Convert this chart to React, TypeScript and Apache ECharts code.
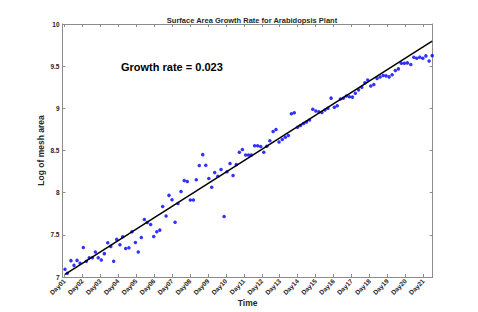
import React, { useEffect, useRef } from "react";
import * as echarts from "echarts";

// Tick positions (days) and their labels
const dayTicks = [1, 2, 3, 4, 5, 6, 7, 8, 9, 10, 11, 12, 13, 14, 15, 16, 17, 18, 19, 20, 21];
const dayLabels = [
  "Day01", "Day02", "Day03", "Day04", "Day05", "Day06", "Day07", "Day08", "Day09", "Day10",
  "Day11", "Day12", "Day13", "Day14", "Day15", "Day16", "Day17", "Day18", "Day19", "Day20", "Day21",
];
const yTicks = ["7", "7.5", "8", "8.5", "9", "9.5", "10"];

// Sample times (days)
const times = [
  1.04, 1.17, 1.37, 1.54, 1.71, 1.88, 2.06, 2.23, 2.39, 2.56,
  2.73, 2.89, 3.06, 3.23, 3.42, 3.59, 3.75, 3.92, 4.10, 4.25,
  4.42, 4.60, 4.77, 4.96, 5.12, 5.29, 5.46, 5.62, 5.81, 5.98,
  6.15, 6.32, 6.48, 6.67, 6.83, 7.00, 7.17, 7.33, 7.50, 7.68,
  7.85, 8.02, 8.19, 8.35, 8.52, 8.71, 8.88, 9.05, 9.21, 9.38,
  9.55, 9.73, 9.90, 10.06, 10.23, 10.40, 10.58, 10.75, 10.92, 11.10,
  11.26, 11.42, 11.60, 11.77, 11.94, 12.11, 12.28, 12.45, 12.63, 12.79,
  12.96, 13.14, 13.31, 13.48, 13.65, 13.81, 13.99, 14.16, 14.33, 14.49,
  14.66, 14.84, 15.01, 15.18, 15.35, 15.52, 15.69, 15.86, 16.04, 16.20,
  16.38, 16.54, 16.71, 16.88, 17.05, 17.21, 17.39, 17.57, 17.74, 17.90,
  18.07, 18.24, 18.42, 18.59, 18.76, 18.92, 19.09, 19.26, 19.44, 19.61,
  19.77, 19.94, 20.11, 20.30, 20.47, 20.63, 20.80, 20.97, 21.14, 21.32,
  21.49,
];

// Log of mesh area
const logArea = [
  7.091, 7.044, 7.194, 7.138, 7.197, 7.162, 7.351, 7.186, 7.229, 7.229,
  7.296, 7.229, 7.201, 7.277, 7.407, 7.363, 7.186, 7.446, 7.383, 7.478,
  7.339, 7.348, 7.537, 7.410, 7.296, 7.469, 7.682, 7.647, 7.623, 7.481,
  7.537, 7.556, 7.836, 7.724, 7.968, 7.916, 7.650, 7.871, 8.013, 8.143,
  8.132, 7.913, 7.913, 8.153, 8.321, 8.451, 8.324, 8.167, 8.064, 8.240,
  8.194, 8.274, 7.718, 8.247, 8.347, 8.203, 8.333, 8.480, 8.512, 8.447,
  8.447, 8.447, 8.557, 8.557, 8.548, 8.480, 8.550, 8.616, 8.726, 8.750,
  8.602, 8.631, 8.658, 8.679, 8.936, 8.948, 8.776, 8.797, 8.820, 8.839,
  8.862, 8.989, 8.969, 8.959, 8.950, 8.979, 9.001, 9.121, 9.013, 9.030,
  9.110, 9.119, 9.145, 9.137, 9.133, 9.178, 9.219, 9.251, 9.302, 9.335,
  9.264, 9.282, 9.355, 9.371, 9.389, 9.385, 9.373, 9.399, 9.448, 9.468,
  9.535, 9.535, 9.539, 9.521, 9.606, 9.595, 9.607, 9.595, 9.622, 9.560,
  9.625,
];

// Fitted line (per day)
const fitSlope = 0.1353;
const fitIntercept = 6.89;
const growthRateText = "Growth rate = 0.023";

const FONT = "'Liberation Sans', Arial, Helvetica, sans-serif";
const AXIS_COLOR = "#8c8c8c";
const TEXT_COLOR = "#262626";

export default function App() {
  const ref = useRef<HTMLDivElement>(null);

  useEffect(() => {
    if (!ref.current) return;
    const chart = echarts.init(ref.current, undefined, { renderer: "svg" });
    const points = times.map((t, i) => [t, logArea[i]]);
    const t0 = times[0];
    const t1 = times[times.length - 1];
    const fitLine = [
      [t0, fitIntercept + fitSlope * t0],
      [t1, fitIntercept + fitSlope * t1],
    ];
    const xMin = 0.9;
    const xMax = 21.52;

    chart.setOption({
      animation: false,
      backgroundColor: "#ffffff",
      textStyle: { fontFamily: FONT },
      title: {
        text: "Surface Area Growth Rate for Arabidopsis Plant",
        left: 247,
        textAlign: "center",
        top: 11,
        textStyle: { fontSize: 7.5, fontWeight: "bold", color: TEXT_COLOR, fontFamily: FONT },
      },
      grid: { left: 62.5, right: 45.3, top: 24, bottom: 34.3 },
      xAxis: [
        {
          type: "value",
          min: xMin,
          max: xMax,
          position: "bottom",
          name: "Time",
          nameLocation: "middle",
          nameGap: 21,
          nameMoveOverlap: false,
          nameTextStyle: { fontSize: 8.5, fontWeight: "bold", color: TEXT_COLOR, fontFamily: FONT },
          axisLine: { show: true, lineStyle: { color: AXIS_COLOR, width: 1 } },
          axisTick: { show: true, inside: true, length: 3, customValues: dayTicks, lineStyle: { color: AXIS_COLOR } },
          axisLabel: {
            show: true,
            customValues: dayTicks,
            rotate: 45,
            margin: 3,
            fontSize: 6.5,
            fontWeight: "bold",
            color: TEXT_COLOR,
            fontFamily: FONT,
            formatter: (v: number) => dayLabels[dayTicks.indexOf(Math.round(v))] ?? "",
          },
          splitLine: { show: false },
        },
        {
          type: "value",
          min: xMin,
          max: xMax,
          position: "top",
          axisLine: { show: true, lineStyle: { color: AXIS_COLOR, width: 1 } },
          axisTick: { show: true, inside: true, length: 3, customValues: dayTicks, lineStyle: { color: AXIS_COLOR } },
          axisLabel: { show: false },
          splitLine: { show: false },
        },
      ],
      yAxis: [
        {
          type: "value",
          min: 7,
          max: 10,
          interval: 0.5,
          position: "left",
          name: "Log of mesh area",
          nameLocation: "middle",
          nameGap: 17,
          nameMoveOverlap: false,
          nameTextStyle: { fontSize: 8.5, fontWeight: "bold", color: TEXT_COLOR, fontFamily: FONT },
          axisLine: { show: true, lineStyle: { color: AXIS_COLOR, width: 1 } },
          axisTick: { show: true, inside: true, length: 3, lineStyle: { color: AXIS_COLOR } },
          axisLabel: {
            show: true,
            margin: 3,
            fontSize: 6.5,
            fontWeight: "bold",
            color: TEXT_COLOR,
            fontFamily: FONT,
            formatter: (v: number) => yTicks[Math.round((v - 7) / 0.5)] ?? "",
          },
          splitLine: { show: false },
        },
        {
          type: "value",
          min: 7,
          max: 10,
          interval: 0.5,
          position: "right",
          axisLine: { show: true, lineStyle: { color: AXIS_COLOR, width: 1 } },
          axisTick: { show: true, inside: true, length: 3, lineStyle: { color: AXIS_COLOR } },
          axisLabel: { show: false },
          splitLine: { show: false },
        },
      ],
      graphic: [
        {
          type: "text",
          left: 121,
          top: 61,
          style: {
            text: growthRateText,
            fontSize: 11,
            fontWeight: "bold",
            fill: "#000000",
            fontFamily: FONT,
          },
        },
      ],
      series: [
        {
          type: "scatter",
          xAxisIndex: 0,
          yAxisIndex: 0,
          data: points,
          symbol: "circle",
          symbolSize: 3.5,
          itemStyle: { color: "#0000ff" },
          z: 2,
        },
        {
          type: "line",
          xAxisIndex: 0,
          yAxisIndex: 0,
          data: fitLine,
          showSymbol: false,
          symbol: "none",
          lineStyle: { color: "#000000", width: 1.5 },
          z: 3,
        },
      ],
    });
    return () => chart.dispose();
  }, []);

  return (
    <div
      ref={ref}
      style={{ position: "fixed", left: 0, top: 0, width: 478, height: 312, background: "#fff" }}
    />
  );
}
